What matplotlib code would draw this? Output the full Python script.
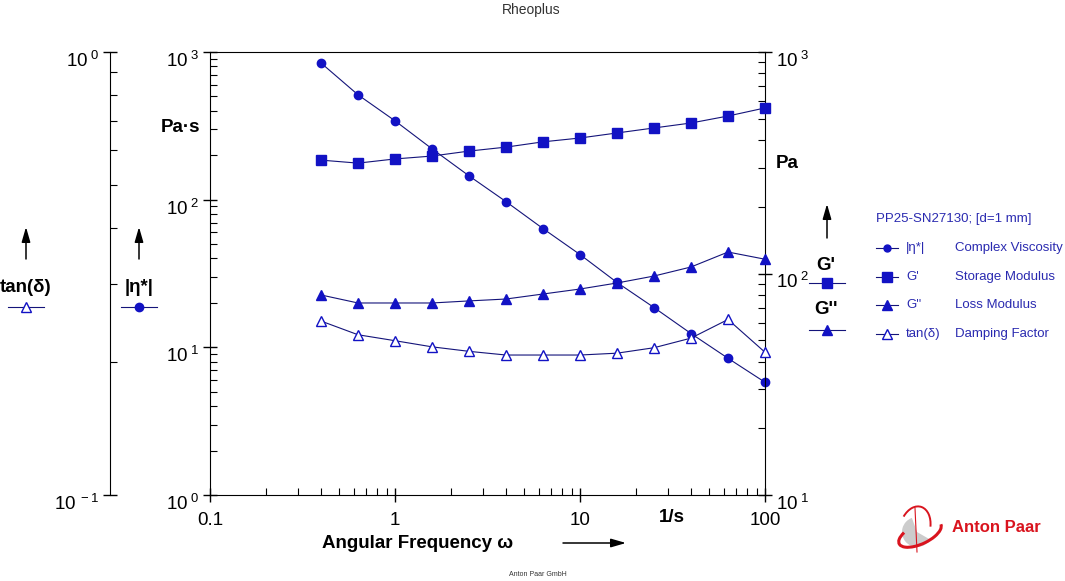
import numpy as np
import matplotlib
matplotlib.use('Agg')
import matplotlib.pyplot as plt
import matplotlib.transforms as mtransforms
from matplotlib.ticker import LogLocator, FuncFormatter, NullFormatter, FixedFormatter, FixedLocator
from matplotlib.lines import Line2D
from matplotlib.patches import Arc, Wedge, FancyArrowPatch

freq = [0.398, 0.631, 1.0, 1.585, 2.512, 3.981, 6.310, 10.0, 15.85, 25.12, 39.81, 63.10, 100.0]
eta = [843, 513, 342, 221, 145, 97, 63.7, 42.5, 27.5, 18.6, 12.4, 8.43, 5.8]
g_store = [325, 315, 329, 339, 357, 372, 393, 409, 431, 454, 478, 514, 559]
g_loss = [80, 73.6, 73.6, 73.6, 75.2, 76.7, 80.8, 85.1, 90.6, 97.4, 107, 125, 116]
tan_d = [0.247, 0.230, 0.223, 0.216, 0.211, 0.207, 0.207, 0.207, 0.209, 0.215, 0.226, 0.249, 0.210]

x_ticks = [0.1, 1, 10, 100]
x_labels = ['0.1', '1', '10', '100']

legend_title = 'PP25-SN27130; [d=1 mm]'
legend_sym = ['|\u03b7*|', "G'", "G''", 'tan(\u03b4)']
legend_desc = ['Complex Viscosity', 'Storage Modulus', 'Loss Modulus', 'Damping Factor']

plt.rcParams['font.family'] = ['Liberation Sans', 'DejaVu Sans']
plt.rcParams['mathtext.fontset'] = 'custom'
plt.rcParams['mathtext.rm'] = 'Liberation Sans'
plt.rcParams['mathtext.it'] = 'Liberation Sans'

W, H = 1065, 581
MK = '#1212c4'
LN = '#14147a'
TXT = '#2a2ab0'

def fx(x):
    return x / W

def fy(y):
    return 1 - y / H

def pow_fmt(v, p):
    e = int(round(np.log10(v)))
    return r'$\mathregular{10^{\;%s}}$' % ('-1' if e == -1 else str(e))

def arrow(x0, y0, x1, y1):
    fig.add_artist(FancyArrowPatch((fx(x0), fy(y0)), (fx(x1), fy(y1)),
                   transform=fig.transFigure, arrowstyle='-|>,head_length=9,head_width=2.6',
                   color='black', lw=1.1, mutation_scale=1, shrinkA=0, shrinkB=0))

def style_log_y(a):
    a.set_yscale('log')
    a.yaxis.set_major_locator(LogLocator(base=10))
    a.yaxis.set_major_formatter(FuncFormatter(pow_fmt))
    a.yaxis.set_minor_locator(LogLocator(base=10, subs=np.arange(2, 10)))
    a.yaxis.set_minor_formatter(NullFormatter())
    a.tick_params(which='major', direction='inout', length=10, width=1, labelsize=13.5, pad=3)
    a.tick_params(which='minor', direction='in', length=5, width=0.8)

fig = plt.figure(figsize=(W / 100, H / 100), dpi=100)
ax = fig.add_axes([fx(210), fy(495), 555 / W, 443 / H])

ax.set_xscale('log')
ax.set_xlim(0.1, 100)
style_log_y(ax)
ax.set_ylim(1, 1000)
ax.spines['right'].set_visible(False)
ax.xaxis.set_major_locator(FixedLocator(x_ticks))
ax.xaxis.set_major_formatter(FixedFormatter(x_labels))
ax.xaxis.set_minor_locator(LogLocator(base=10, subs=np.arange(2, 10)))
ax.xaxis.set_minor_formatter(NullFormatter())
ax.tick_params(axis='x', which='both', top=False)
ax.tick_params(axis='x', which='major', pad=7)
ax.plot(freq, eta, '-o', color=LN, lw=0.8, ms=6, mfc=MK, mec=MK, clip_on=False, zorder=5)

# Pa axis on the right
axr = ax.twinx()
style_log_y(axr)
axr.set_ylim(10, 1000)
for s in ['left', 'top', 'bottom']:
    axr.spines[s].set_visible(False)
axr.plot(freq, g_store, '-s', color=LN, lw=0.8, ms=7.5, mfc=MK, mec=MK, clip_on=False, zorder=5)
axr.plot(freq, g_loss, '-^', color=LN, lw=0.8, ms=7.5, mfc=MK, mec=MK, clip_on=False, zorder=5)

# tan(delta) axis far left
axt = ax.twinx()
style_log_y(axt)
axt.set_ylim(0.1, 1)
axt.yaxis.set_ticks_position('left')
axt.spines['left'].set_position(('axes', -100 / 555))
axt.spines['left'].set_visible(True)
for s in ['right', 'top', 'bottom']:
    axt.spines[s].set_visible(False)
axt.plot(freq, tan_d, '-^', color=LN, lw=0.8, ms=7.5, mfc='white', mec=MK, clip_on=False, zorder=5)

# texts
fig.text(fx(531), fy(10), 'Rheoplus', ha='center', va='center', fontsize=10, color='#333333')
fig.text(fx(181), fy(127), 'Pa\u00b7s', ha='center', va='center', fontsize=13.5, fontweight='bold')
fig.text(fx(787), fy(163), 'Pa', ha='center', va='center', fontsize=13.5, fontweight='bold')
fig.text(fx(672), fy(518), '1/s', ha='center', va='center', fontsize=13.5, fontweight='bold')
fig.text(fx(418), fy(543), 'Angular Frequency \u03c9', ha='center', va='center', fontsize=13.5, fontweight='bold')
fig.text(fx(538), fy(575), 'Anton Paar GmbH', ha='center', va='center', fontsize=5, color='#333333')

# side labels with arrows and marker keys
side = [(26, 288, 'tan(\u03b4)', '^', 'white'),
        (139, 288, '|\u03b7*|', 'o', MK)]
for x, y, lab, m, fc in side:
    fig.text(fx(x), fy(y), lab, ha='center', va='center', fontsize=13.5, fontweight='bold')
    fig.add_artist(Line2D([fx(x - 18), fx(x), fx(x + 18)], [fy(307)] * 3, color=LN, lw=0.8,
                          marker=m, markevery=[1], ms=6.5 if m == '^' else 6, mfc=fc, mec=MK))
    arrow(x, 259, x, 227)

arrow(827, 238, 827, 204)
fig.text(fx(826), fy(265), "G'", ha='center', va='center', fontsize=13.5, fontweight='bold')
fig.add_artist(Line2D([fx(809), fx(827), fx(845)], [fy(283)] * 3, color=LN, lw=0.8,
                      marker='s', markevery=[1], ms=7, mfc=MK, mec=MK))
fig.text(fx(826), fy(310), "G''", ha='center', va='center', fontsize=13.5, fontweight='bold')
fig.add_artist(Line2D([fx(809), fx(827), fx(845)], [fy(330)] * 3, color=LN, lw=0.8,
                      marker='^', markevery=[1], ms=7, mfc=MK, mec=MK))

arrow(563, 543, 626, 543)

# legend on the right
fig.text(fx(876), fy(219), legend_title, ha='left', va='center', fontsize=9.5, color=TXT)
leg_markers = [('o', MK, 5), ('s', MK, 6.5), ('^', MK, 6.5), ('^', 'white', 6.5)]
for i, (m, fc, ms) in enumerate(leg_markers):
    yy = 248 + i * 28.7
    fig.add_artist(Line2D([fx(876), fx(887), fx(898)], [fy(yy)] * 3, color=LN, lw=0.8,
                          marker=m, markevery=[1], ms=ms, mfc=fc, mec=MK))
    fig.text(fx(906), fy(yy), legend_sym[i], ha='left', va='center', fontsize=9.5, color=TXT)
    fig.text(fx(955), fy(yy), legend_desc[i], ha='left', va='center', fontsize=9.5, color=TXT)

# Anton Paar logo
fig.text(fx(952), fy(527), 'Anton Paar', ha='left', va='center', fontsize=12,
         fontweight='bold', color='#d9141e')
lg = fig.add_axes([fx(893), fy(556), 52 / W, 52 / H])
lg.set_xlim(0, 52)
lg.set_ylim(0, 52)
lg.axis('off')
lg.add_patch(Wedge((24, 24), 15, 110, 330, facecolor='#cccccc', edgecolor='none'))
lg.add_patch(Arc((27, 22), 46, 20, angle=25, theta1=150, theta2=360, color='#d9141e', lw=2.2))
lg.add_patch(Arc((22, 28), 30, 44, angle=-15, theta1=20, theta2=150, color='#d9141e', lw=1.4))
lg.plot([22, 24], [48, 4], color='#d9141e', lw=0.8)

# push the power-of-ten labels down a little so the exponent sits at the tick
fig.canvas.draw()
shift = mtransforms.ScaledTranslation(0, -5 / 72, fig.dpi_scale_trans)
for a in (ax, axr, axt):
    for t in a.yaxis.get_major_ticks():
        t.label1.set_transform(t.label1.get_transform() + shift)
        t.label2.set_transform(t.label2.get_transform() + shift)

fig.savefig('out.png', dpi=100)
